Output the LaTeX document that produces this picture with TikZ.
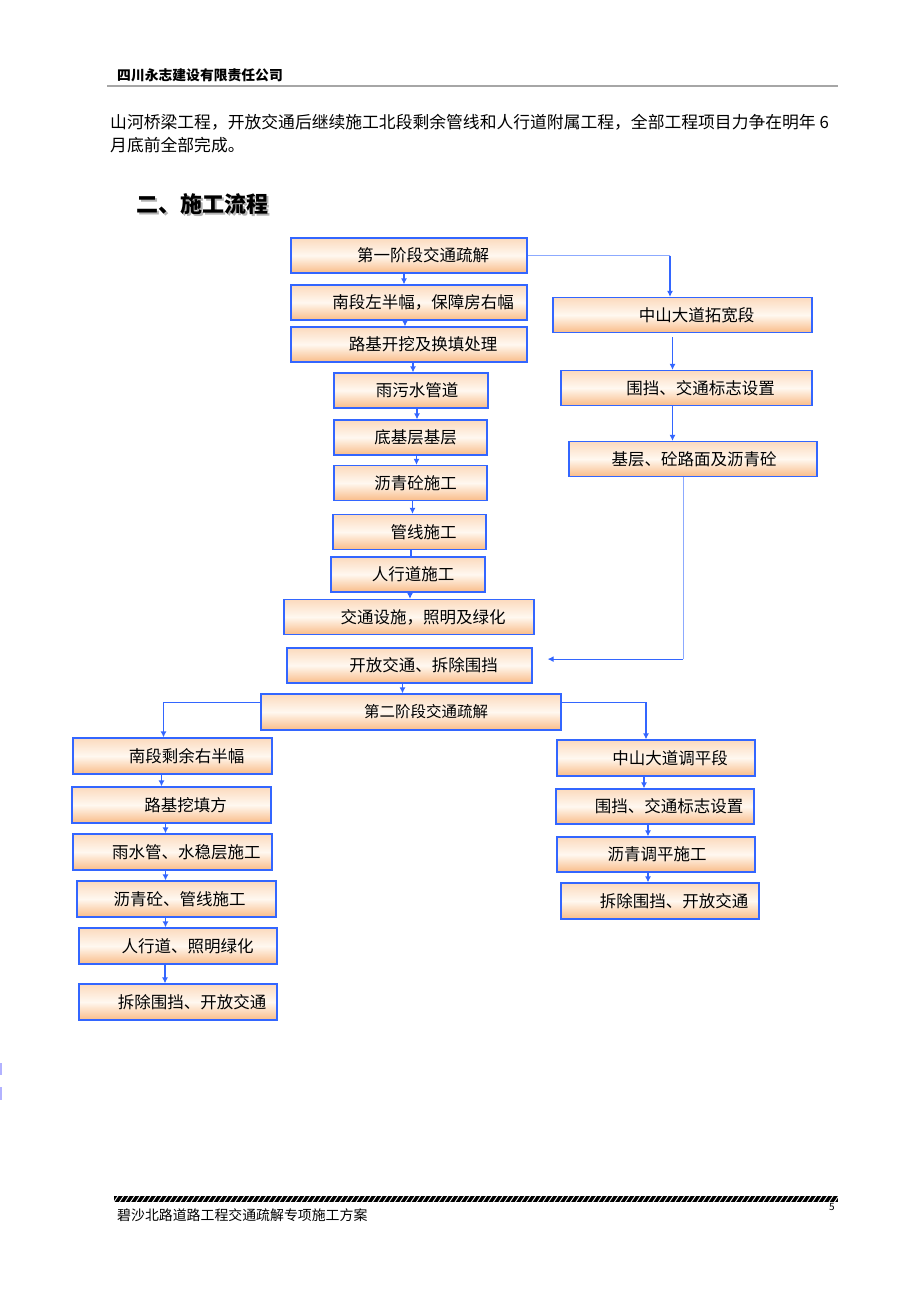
\documentclass[tikz,border=0pt]{standalone}
\usepackage{fontspec}
\usepackage{tikz}
\usetikzlibrary{arrows.meta,positioning,calc}
\newfontfamily\cjk{Noto Sans CJK SC}
\definecolor{flowblue}{RGB}{51,102,255}
\definecolor{thinblue}{RGB}{140,170,255}
\definecolor{boxpeach}{RGB}{249,188,136}
\definecolor{boxlight}{RGB}{255,248,240}
\tikzset{
    flow/.style={-{Latex[length=6pt, width=6pt]}, line width=1.2pt, flowblue},
    flowline/.style={line width=1.2pt, flowblue},
    thinflow/.style={line width=0.6pt, thinblue},
    stepbox/.style={draw=flowblue, line width=1.2pt, top color=boxpeach!55, bottom color=boxpeach, middle color=boxlight,
        minimum height=35pt, inner sep=0pt, font=\cjk\fontsize{16.5}{18}\selectfont,
        execute at begin node={\hspace*{#1}}},
    stepbox/.default=28pt,
    pagetext/.style={anchor=west, inner sep=0pt}
}

\begin{document}
\begin{tikzpicture}[x=1pt, y=-1pt]
    \fill[white] (0,0) rectangle (920,1302);
    \useasboundingbox (0,0) rectangle (920,1302);

    % header and text
    \node[pagetext, font=\cjk\bfseries\fontsize{13.8}{15}\selectfont] (company) at (117,75) {四川永志建设有限责任公司};
    \draw[gray!70, line width=2pt] (107,86) -- (838,86);
    \node[pagetext, font=\cjk\fontsize{16.8}{20}\selectfont] (para1) at (110,122) {山河桥梁工程，开放交通后继续施工北段剩余管线和人行道附属工程，全部工程项目力争在明年 6};
    \node[pagetext, font=\cjk\fontsize{16.8}{20}\selectfont] (para2) at (110,145) {月底前全部完成。};
    \node[pagetext, font=\cjk\bfseries\fontsize{22}{24}\selectfont, text=gray!60] (titleshadow) at (138,206) {二、施工流程};
    \node[pagetext, font=\cjk\bfseries\fontsize{22}{24}\selectfont] (title) at (136,204) {二、施工流程};

    % first stage
    \node[stepbox, minimum width=236pt] (s1a) at (409,255.5) {第一阶段交通疏解};
    \node[stepbox, minimum width=236pt] (s1b) at (409,302.5) {南段左半幅，保障房右幅};
    \node[stepbox, minimum width=236pt] (s1c) at (409,344.5) {路基开挖及换填处理};
    \node[stepbox=12pt, minimum width=154pt] (s1d) at (411,390.5) {雨污水管道};
    \node[stepbox=10pt, minimum width=153pt] (s1e) at (410.5,437.5) {底基层基层};
    \node[stepbox=10pt, minimum width=153pt] (s1f) at (410.5,483) {沥青砼施工};
    \node[stepbox, minimum width=153pt] (s1g) at (409.5,532) {管线施工};
    \node[stepbox=10pt, minimum width=154pt] (s1h) at (408,574.5) {人行道施工};
    \node[stepbox, minimum width=250pt] (s1i) at (409,617) {交通设施，照明及绿化};
    \node[stepbox, minimum width=245pt] (s1j) at (409.5,665.5) {开放交通、拆除围挡};

    \node[stepbox, minimum width=259pt] (r1a) at (682.5,315) {中山大道拓宽段};
    \node[stepbox, minimum width=251pt] (r1b) at (686.5,388) {围挡、交通标志设置};
    \node[stepbox=2pt, minimum width=248pt] (r1c) at (693,459) {基层、砼路面及沥青砼};

    % second stage
    \node[stepbox=30pt, minimum width=300pt, minimum height=36pt, font=\cjk\fontsize{15.5}{17}\selectfont] (s2) at (411,712) {第二阶段交通疏解};

    \node[stepbox, minimum width=199pt, minimum height=36pt] (l2a) at (172.5,756) {南段剩余右半幅};
    \node[stepbox, minimum width=199pt, minimum height=36pt] (l2b) at (171.5,805) {路基挖填方};
    \node[stepbox, minimum width=199pt, minimum height=36pt] (l2c) at (172.5,852) {雨水管、水稳层施工};
    \node[stepbox=6pt, minimum width=199pt, minimum height=36pt] (l2d) at (176.5,899) {沥青砼、管线施工};
    \node[stepbox=19pt, minimum width=198pt, minimum height=36pt] (l2e) at (178,946) {人行道、照明绿化};
    \node[stepbox, minimum width=198pt, minimum height=36pt] (l2f) at (178,1002) {拆除围挡、开放交通};

    \node[stepbox, minimum width=198pt, minimum height=36pt] (r2a) at (656,758) {中山大道调平段};
    \node[stepbox, minimum width=198pt, minimum height=35pt] (r2b) at (655,806.5) {围挡、交通标志设置};
    \node[stepbox=2pt, minimum width=198pt, minimum height=35pt] (r2c) at (656,854.5) {沥青调平施工};
    \node[stepbox, minimum width=198pt, minimum height=36pt] (r2d) at (660,901) {拆除围挡、开放交通};

    % connectors
    \foreach \a/\b/\s in {s1a/s1b/-5, s1b/s1c/-4, s1c/s1d/4, s1d/s1e/6, s1e/s1f/6, s1f/s1g/2, s1h/s1i/2, s1j/s2/-7,
                          l2a/l2b/-11, l2b/l2c/-6, l2c/l2d/-7, l2d/l2e/-11, l2e/l2f/-13,
                          r2a/r2b/-12, r2b/r2c/-7, r2c/r2d/-8, r1b/r1c/-14}
        \draw[flow] ([xshift=\s pt]\a.south) -- ([xshift=\s pt]\a.south |- \b.north);
    \draw[flowline] ([xshift=1.5pt]s1g.south) -- ([xshift=1.5pt]s1g.south |- s1h.north);
    \draw[flow] ([xshift=-10pt,yshift=-4pt]r1a.south) -- ([xshift=-10pt]r1a.south |- r1b.north);

    \draw[thinflow] (s1a.east) -- ([xshift=-12.5pt]r1a.north |- s1a.east) coordinate (s1turn);
    \draw[flow] (s1turn) -- ([xshift=-12.5pt]r1a.north);
    \draw[thinflow] ([xshift=-10pt]r1c.south) -- ++(0,182) coordinate (r1turn);
    \draw[flow] (r1turn) -- ([xshift=15pt]s1j.east |- r1turn);

    \coordinate (s2left) at ([yshift=-9pt]s2.north west);
    \coordinate (s2right) at ([yshift=-9pt]s2.north east);
    \draw[flow] (s2left) -| ([xshift=-9pt]l2a.north);
    \draw[flow] (s2right) -| ([xshift=-10pt]r2a.north);

    % footer
    \fill[black] (114,1196) rectangle (838,1202);
    \begin{scope}
        \clip (114,1196) rectangle (838,1202);
        \foreach \x in {114,119.5,...,840}
            \draw[white, line width=0.9pt] (\x,1202) -- ({\x+4},1196);
    \end{scope}
    \node[pagetext, font=\cjk\fontsize{13.9}{15}\selectfont] (footer) at (117,1215) {碧沙北路道路工程交通疏解专项施工方案};
    \node[font=\cjk\fontsize{10}{11}\selectfont, inner sep=0pt] (pagenum) at (832,1207) {5};
    \fill[blue!30] (0,1063) rectangle (2,1075);
    \fill[blue!30] (0,1087) rectangle (2,1100);
\end{tikzpicture}
\end{document}
